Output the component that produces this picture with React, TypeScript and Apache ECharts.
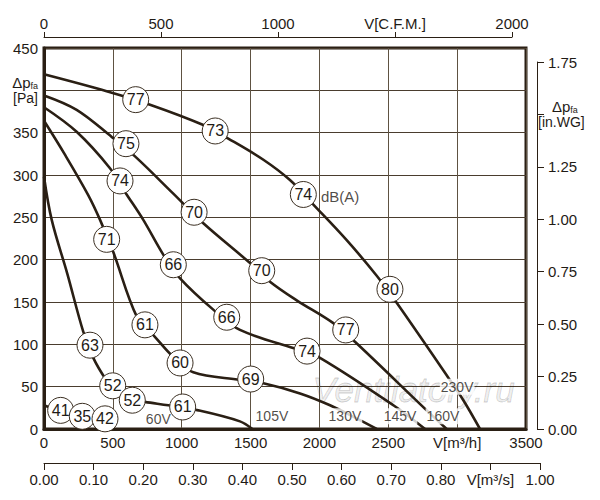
import { useEffect, useRef } from 'react';
import * as echarts from 'echarts';

// fan curves: airflow V [m³/h] against static pressure Δp_fa [Pa], one curve per supply voltage
const curve60V: [number, number][] = [[0, 28], [121, 21], [278, 14], [443, 9]];
const curve105V: [number, number][] = [
  [0, 298], [56, 247], [170, 183], [285, 115], [358, 84], [443, 60], [499, 49],
  [641, 35], [733, 32], [903, 28], [1121, 22], [1423, 9], [1513, 0],
];
const curve130V: [number, number][] = [
  [0, 364], [152, 324], [322, 276], [407, 247], [503, 209], [673, 133], [794, 111],
  [939, 85], [1084, 67], [1423, 58], [1593, 54], [1859, 42], [2077, 28], [2287, 11], [2416, 0],
];
const curve145V: [number, number][] = [
  [0, 380], [237, 351], [479, 308], [588, 280], [721, 247], [866, 206], [988, 178],
  [1229, 141], [1423, 117], [1859, 93], [2004, 84], [2537, 28], [2767, 0],
];
const curve160V: [number, number][] = [
  [0, 394], [237, 377], [492, 345], [661, 322], [939, 278], [1157, 243], [1496, 196],
  [1641, 174], [1835, 152], [2101, 125], [2258, 103], [2779, 22], [2924, 0],
];
const curve230V: [number, number][] = [
  [0, 419], [455, 399], [770, 383], [1157, 359], [1338, 343], [1593, 318], [1786, 294],
  [1956, 265], [2198, 223], [2416, 181], [2561, 149], [2930, 62], [3045, 34], [3166, 0],
];

// sound level circles: [V, Δp, dB(A)]
const markers60V: [number, number, number][] = [[121, 22, 41], [278, 15, 35], [443, 12, 42]];
const markers105V: [number, number, number][] = [[334, 99, 63], [499, 51, 52], [641, 34, 52], [1007, 26, 61]];
const markers130V: [number, number, number][] = [[455, 224, 71], [733, 123, 61], [988, 78, 60], [1501, 59, 69]];
const markers145V: [number, number, number][] = [[552, 293, 74], [939, 194, 66], [1327, 132, 66], [1910, 92, 74]];
const markers160V: [number, number, number][] = [[595, 337, 75], [1090, 256, 70], [1581, 187, 70], [2191, 117, 77]];
const markers230V: [number, number, number][] = [[666, 389, 77], [1243, 352, 73], [1883, 277, 74], [2512, 165, 80]];

const voltageLabels: [string, number, number][] = [
  ['60V', 830, 12], ['105V', 1655, 15], ['130V', 2185, 15],
  ['145V', 2585, 15], ['160V', 2897, 15], ['230V', 3000, 50],
];
const dbaLabel: [number, number] = [2150, 275];

const FONT = "'Liberation Sans', Arial, sans-serif";
const INK = '#2a1f14';
const TEXT = '#1f1b16';

const curves = [curve60V, curve105V, curve130V, curve145V, curve160V, curve230V];
const markers = [...markers60V, ...markers105V, ...markers130V, ...markers145V, ...markers160V, ...markers230V];

const near = (a: number, b: number) => Math.abs(a - b) < 1e-6;

const subRich = {
  t: { fontSize: 15, lineHeight: 16, color: TEXT },
  ts: { fontSize: 9, lineHeight: 9, verticalAlign: 'bottom' as const, color: TEXT },
  t2: { fontSize: 14, lineHeight: 16, color: TEXT },
};

const hiddenAxis = (gridIndex: number) => ({
  gridIndex,
  type: 'value' as const,
  show: false,
  min: 0,
  max: 1,
});

const option: echarts.EChartsOption = {
  animation: false,
  backgroundColor: '#fff',
  textStyle: { fontFamily: FONT },
  grid: [
    { left: 44, top: 48, width: 482, height: 381, show: true, borderWidth: 3, borderColor: INK },
    { left: 44, top: 37, width: 468, height: 10 },
    { left: 520, top: 62, width: 17, height: 367 },
    { left: 44, top: 453, width: 496, height: 10 },
  ],
  xAxis: [
    {
      gridIndex: 0,
      type: 'value',
      min: 0,
      max: 3500,
      interval: 500,
      axisLine: { show: true, onZero: false, lineStyle: { color: INK, width: 3 } },
      axisTick: { show: false },
      splitLine: { show: true, lineStyle: { color: '#5e5242', width: 1 } },
      axisLabel: {
        margin: 6,
        fontSize: 15,
        color: TEXT,
        formatter: (v: number) => (v === 3000 ? 'V[m³/h]' : String(v)),
      },
    },
    {
      gridIndex: 1,
      type: 'value',
      position: 'top',
      min: 0,
      max: 2000,
      interval: 500,
      axisLine: { show: true, onZero: false, lineStyle: { color: INK, width: 1 } },
      axisTick: { show: true, length: 5, lineStyle: { color: INK } },
      splitLine: { show: false },
      axisLabel: {
        margin: 6,
        fontSize: 15,
        color: TEXT,
        formatter: (v: number) => (v === 1500 ? 'V[C.F.M.]' : String(v)),
      },
    },
    hiddenAxis(2),
    {
      gridIndex: 3,
      type: 'value',
      position: 'bottom',
      min: 0,
      max: 1,
      interval: 0.1,
      axisLine: { show: true, onZero: false, lineStyle: { color: INK, width: 1 } },
      axisTick: { show: true, length: 7, lineStyle: { color: INK } },
      splitLine: { show: false },
      axisLabel: {
        margin: 9,
        fontSize: 15,
        color: TEXT,
        formatter: (v: number) => (near(v, 0.9) ? 'V[m³/s]' : v.toFixed(2)),
      },
    },
  ],
  yAxis: [
    {
      gridIndex: 0,
      type: 'value',
      min: 0,
      max: 450,
      interval: 50,
      axisLine: { show: true, onZero: false, lineStyle: { color: INK, width: 3 } },
      axisTick: { show: false },
      splitLine: { show: true, lineStyle: { color: '#4a3d2e', width: 1 } },
      axisLabel: {
        margin: 6,
        fontSize: 15,
        color: TEXT,
        formatter: (v: number) => (v === 400 ? '{t|Δp}{ts|fa}\n{t2|[Pa]}' : String(v)),
        rich: subRich,
      },
    },
    hiddenAxis(1),
    {
      gridIndex: 2,
      type: 'value',
      position: 'right',
      min: 0,
      max: 1.75,
      interval: 0.25,
      axisLine: { show: true, onZero: false, lineStyle: { color: INK, width: 1 } },
      axisTick: { show: true, length: 7, lineStyle: { color: INK } },
      splitLine: { show: false },
      axisLabel: {
        margin: 1,
        fontSize: 15,
        color: TEXT,
        formatter: (v: number) =>
          near(v, 1.5) ? '{tp|Δp}{ts|fa}\n{t2|[in.WG]}' : `{n|${v.toFixed(2)}}`,
        rich: {
          ...subRich,
          tp: { fontSize: 15, lineHeight: 16, color: TEXT, padding: [0, 0, 0, 14] },
          n: { fontSize: 15, color: TEXT, padding: [0, 0, 0, 10] },
        },
      },
    },
    hiddenAxis(3),
  ],
  graphic: [
    {
      // faint watermark behind the curves
      type: 'text',
      left: 312,
      top: 372,
      z: 1,
      silent: true,
      style: {
        text: 'Ventilatory.ru',
        font: `italic 35px ${FONT}`,
        fill: 'rgba(0,0,0,0.06)',
        stroke: 'rgba(0,0,0,0.2)',
        lineWidth: 0.8,
      },
    },
  ],
  series: [
    ...curves.map((data) => ({
      type: 'line' as const,
      data,
      xAxisIndex: 0,
      yAxisIndex: 0,
      smooth: 0.35,
      showSymbol: false,
      symbol: 'none',
      silent: true,
      z: 2,
      lineStyle: { color: INK, width: 2.6 },
    })),
    {
      type: 'scatter',
      xAxisIndex: 0,
      yAxisIndex: 0,
      data: voltageLabels.map(([name, x, y]) => ({ name, value: [x, y] })),
      symbolSize: 0,
      silent: true,
      z: 3,
      label: {
        show: true,
        position: 'inside',
        formatter: '{b}',
        fontSize: 14,
        color: TEXT,
        backgroundColor: '#fff',
        padding: [1, 1],
      },
    },
    {
      type: 'scatter',
      xAxisIndex: 0,
      yAxisIndex: 0,
      data: [dbaLabel],
      symbolSize: 0,
      silent: true,
      z: 3,
      label: { show: true, position: 'inside', formatter: 'dB(A)', fontSize: 15, color: TEXT },
    },
    {
      type: 'scatter',
      xAxisIndex: 0,
      yAxisIndex: 0,
      data: markers,
      symbol: 'circle',
      symbolSize: 26,
      silent: true,
      z: 5,
      itemStyle: { color: '#fff', borderColor: '#3b2f22', borderWidth: 1, opacity: 1 },
      label: {
        show: true,
        position: 'inside',
        fontSize: 16,
        color: TEXT,
        formatter: (p: any) => String(p.value[2]),
      },
    },
  ],
};

export default function App() {
  const ref = useRef<HTMLDivElement>(null);

  useEffect(() => {
    if (!ref.current) return;
    const chart = echarts.init(ref.current, undefined, { renderer: 'svg' });
    chart.setOption(option);
    return () => chart.dispose();
  }, []);

  return (
    <div
      ref={ref}
      style={{ position: 'absolute', left: 0, top: 0, width: 600, height: 500 }}
    />
  );
}
